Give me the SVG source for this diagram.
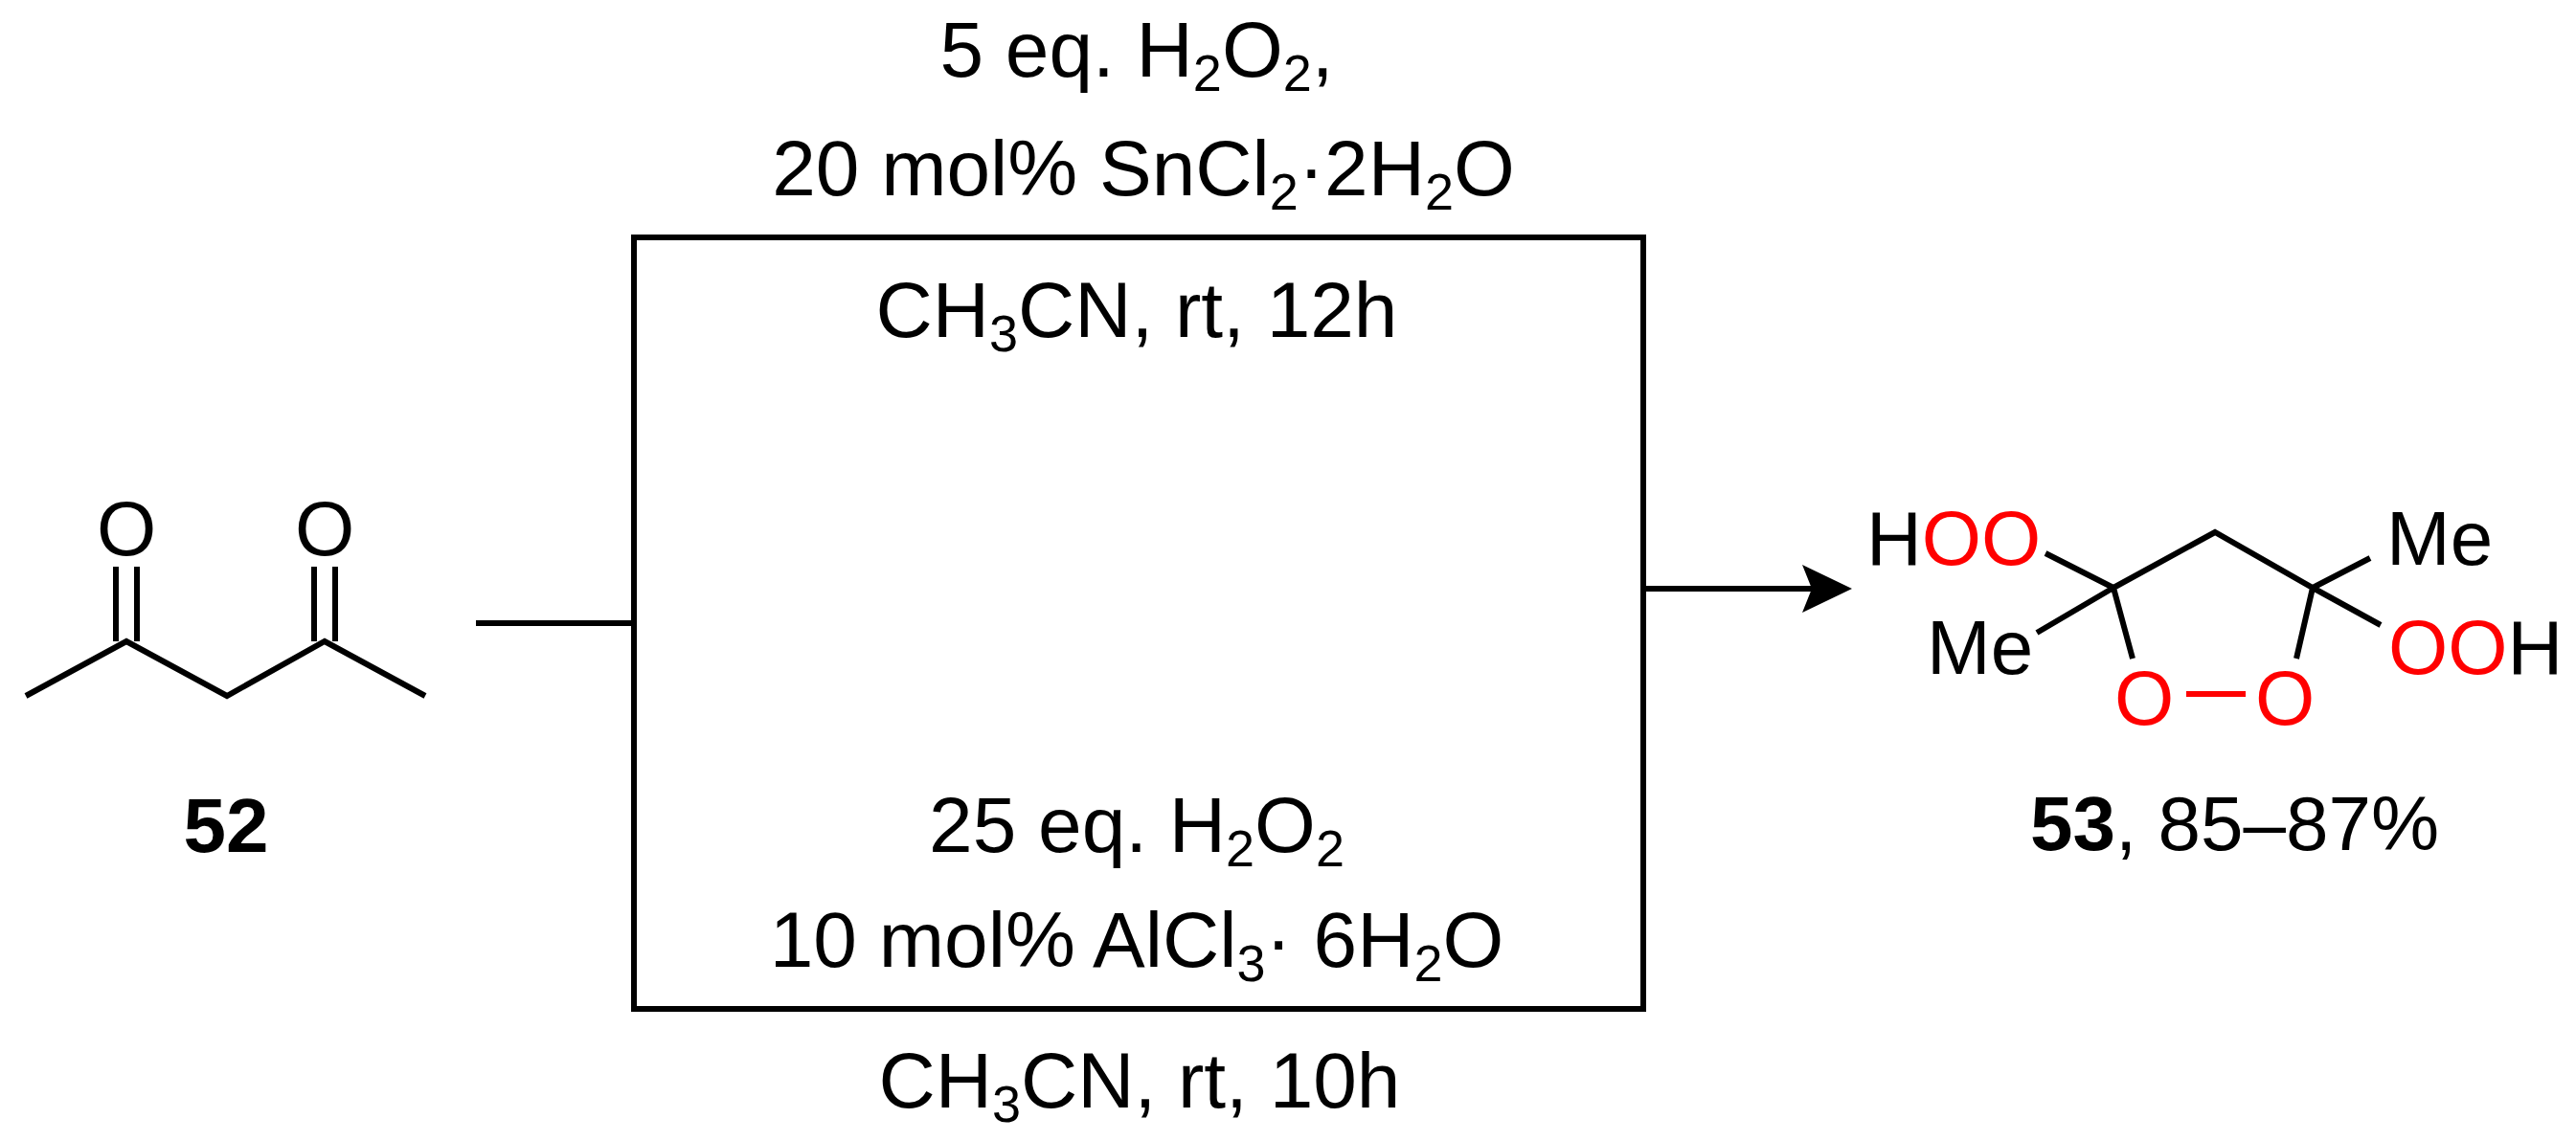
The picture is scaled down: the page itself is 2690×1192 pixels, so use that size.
<svg xmlns="http://www.w3.org/2000/svg" width="2690" height="1192" viewBox="0 0 2690 1192">
<style>
text{font-family:"Liberation Sans",Arial,sans-serif;fill:#000}
.c{font-size:82px;text-anchor:middle}
.a{font-size:80px}
.r{fill:#f00}
.b{stroke:#000;stroke-width:6;fill:none;stroke-linecap:butt}
.s{font-size:54px}
</style>
<g id="c52">
<path class="b" d="M27,727 L132,670 L237,727 L339,670 L444,727"/>
<path class="b" d="M121,670 V592 M143,670 V592 M328,670 V592 M350,670 V592"/>
<text class="a" x="132" y="580" text-anchor="middle">O</text>
<text class="a" x="339" y="580" text-anchor="middle">O</text>
<text x="236" y="890" font-size="80" font-weight="bold" text-anchor="middle">52</text>
</g>
<g id="conditions">
<text class="c" x="1187" y="80">5 eq. H<tspan class="s" dy="15">2</tspan><tspan dy="-15">O</tspan><tspan class="s" dy="15">2</tspan><tspan dy="-15">,</tspan></text>
<text class="c" x="1194" y="204">20 mol% SnCl<tspan class="s" dy="15">2</tspan><tspan dy="-15">·2H</tspan><tspan class="s" dy="15">2</tspan><tspan dy="-15">O</tspan></text>
<text class="c" x="1187" y="352">CH<tspan class="s" dy="15">3</tspan><tspan dy="-15">CN, rt, 12h</tspan></text>
<text class="c" x="1187" y="890">25 eq. H<tspan class="s" dy="15">2</tspan><tspan dy="-15">O</tspan><tspan class="s" dy="15">2</tspan></text>
<text class="c" x="1187" y="1010">10 mol% AlCl<tspan class="s" dy="15">3</tspan><tspan dy="-15">· 6H</tspan><tspan class="s" dy="15">2</tspan><tspan dy="-15">O</tspan></text>
<text class="c" x="1190" y="1157">CH<tspan class="s" dy="15">3</tspan><tspan dy="-15">CN, rt, 10h</tspan></text>
</g>
<g id="connectors">
<rect class="b" x="662" y="248" width="1054" height="806"/>
<path class="b" d="M497,651 H662"/>
<path class="b" d="M1716,615 H1895"/>
<path d="M1882,590 L1934,615 L1882,640 L1892,615Z" fill="#000"/>
</g>
<g id="c53">
<path class="b" d="M2136,578 L2207,614 L2313,556 L2415,614 L2475,583 M2415,614 L2486,653 M2207,614 L2127,661 M2207,614 L2227,688 M2415,614 L2398,688"/>
<path d="M2283,725 H2345" stroke="#f00" stroke-width="6"/>
<text class="a" x="1949" y="590">H<tspan class="r">OO</tspan></text>
<text class="a" x="2492" y="590">Me</text>
<text class="a" x="2012" y="704">Me</text>
<text class="a" x="2494" y="704"><tspan class="r">OO</tspan>H</text>
<text class="a r" x="2239" y="757" text-anchor="middle">O</text>
<text class="a r" x="2386" y="757" text-anchor="middle">O</text>
<text x="2120" y="888" font-size="80"><tspan font-weight="bold">53</tspan>, 85–87%</text>
</g>
</svg>
